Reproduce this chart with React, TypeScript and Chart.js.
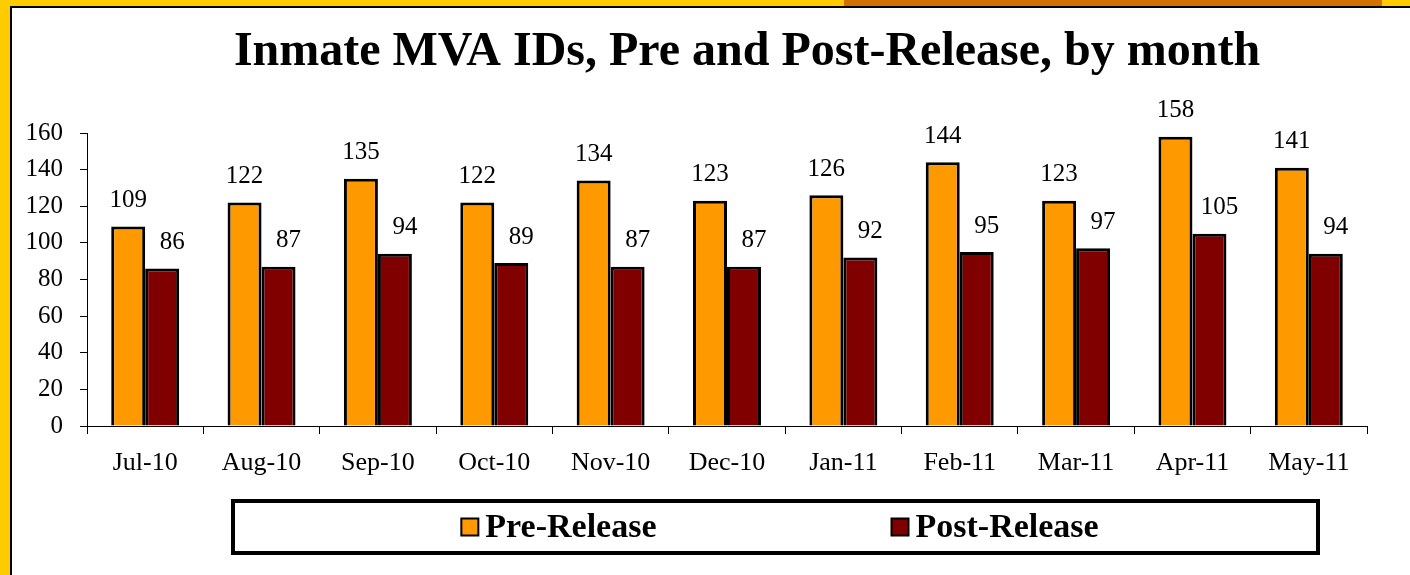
import React, { useEffect, useRef } from "react";
import { Chart, registerables } from "chart.js";

Chart.register(...registerables);

const months = ["Jul-10", "Aug-10", "Sep-10", "Oct-10", "Nov-10", "Dec-10", "Jan-11", "Feb-11", "Mar-11", "Apr-11", "May-11"];
const preRelease = [109, 122, 135, 122, 134, 123, 126, 144, 123, 158, 141];
const postRelease = [86, 87, 94, 89, 87, 87, 92, 95, 97, 105, 94];
const seriesNames = ["Pre-Release", "Post-Release"];
const yTicks = [0, 20, 40, 60, 80, 100, 120, 140, 160];
const titleText = "Inmate MVA IDs, Pre and Post-Release, by month";

const SERIF = '"Liberation Serif", "Times New Roman", serif';
const ORANGE = "#FF9900";
const MAROON = "#800000";

const valueLabels = {
  id: "valueLabels",
  afterDatasetsDraw(chart: any) {
    const ctx = chart.ctx;
    ctx.save();
    ctx.font = `25px ${SERIF}`;
    ctx.fillStyle = "#000";
    ctx.textAlign = "center";
    ctx.textBaseline = "middle";
    chart.data.datasets.forEach((ds: any, di: number) => {
      const meta = chart.getDatasetMeta(di);
      const dx = di === 0 ? 0 : 10;
      meta.data.forEach((bar: any, i: number) => {
        ctx.fillText(String(ds.data[i]), bar.x + dx, bar.y - 26);
      });
    });
    ctx.restore();
  },
};

const titleAndLegend = {
  id: "titleAndLegend",
  afterDraw(chart: any) {
    const ctx = chart.ctx;
    ctx.save();
    // title
    ctx.font = `bold 48px ${SERIF}`;
    ctx.fillStyle = "#000";
    ctx.textAlign = "center";
    ctx.textBaseline = "alphabetic";
    ctx.fillText(titleText, 747, 65);

    // legend box
    const bx = 233, by = 501, bw = 1085, bh = 52;
    ctx.strokeStyle = "#000";
    ctx.lineWidth = 4;
    ctx.strokeRect(bx, by, bw, bh);

    ctx.font = `bold 34px ${SERIF}`;
    ctx.textAlign = "left";
    ctx.textBaseline = "middle";
    const marker = 17, mgap = 7, itemGap = 235;
    const widths = chart.data.datasets.map((d: any) => ctx.measureText(d.label).width);
    let total = 0;
    widths.forEach((w: number, i: number) => {
      total += marker + mgap + w + (i < widths.length - 1 ? itemGap : 0);
    });
    let x = 780 - total / 2;
    const cy = by + bh / 2;
    chart.data.datasets.forEach((d: any, i: number) => {
      ctx.fillStyle = d.backgroundColor;
      ctx.fillRect(x, cy - marker / 2, marker, marker);
      ctx.lineWidth = 2;
      ctx.strokeStyle = "#000";
      ctx.strokeRect(x, cy - marker / 2, marker, marker);
      ctx.fillStyle = "#000";
      ctx.fillText(d.label, x + marker + mgap, cy + 1);
      x += marker + mgap + widths[i] + itemGap;
    });
    ctx.restore();
  },
};

export default function App() {
  const canvasRef = useRef<HTMLCanvasElement | null>(null);

  useEffect(() => {
    if (!canvasRef.current) return;
    const chart = new Chart(canvasRef.current, {
      type: "bar",
      data: {
        labels: months,
        datasets: [
          {
            label: seriesNames[0],
            data: preRelease,
            backgroundColor: ORANGE,
            borderColor: "#000",
            borderWidth: 3,
            borderSkipped: "bottom",
            categoryPercentage: 0.584,
            barPercentage: 1,
          },
          {
            label: seriesNames[1],
            data: postRelease,
            backgroundColor: MAROON,
            borderColor: "#000",
            borderWidth: 3,
            borderSkipped: "bottom",
            categoryPercentage: 0.584,
            barPercentage: 1,
          },
        ],
      },
      options: {
        responsive: false,
        animation: false,
        layout: { padding: { left: 0, right: 43, top: 133, bottom: 99 } },
        plugins: {
          legend: { display: false },
          title: { display: false },
          tooltip: { enabled: false },
        },
        scales: {
          x: {
            offset: true,
            clip: false,
            grid: {
              display: true,
              offset: true,
              drawOnChartArea: false,
              drawTicks: true,
              tickLength: 8,
              color: "#000",
            },
            border: { display: true, color: "#000", width: 1 },
            ticks: {
              color: "#000",
              font: { family: SERIF, size: 26 },
              padding: 14,
              maxRotation: 0,
              autoSkip: false,
            },
            afterFit(scale: any) {
              scale.height = 50;
            },
          },
          y: {
            min: 0,
            max: 160,
            clip: false,
            afterBuildTicks(scale: any) {
              scale.ticks = yTicks.map((v) => ({ value: v }));
            },
            grid: {
              display: true,
              drawOnChartArea: false,
              drawTicks: true,
              tickLength: 7,
              color: "#000",
            },
            border: { display: true, color: "#000", width: 1 },
            ticks: {
              color: "#000",
              font: { family: SERIF, size: 25 },
              padding: 17,
            },
            afterFit(scale: any) {
              scale.width = 87;
            },
          },
        },
      },
      plugins: [valueLabels, titleAndLegend],
    });
    return () => chart.destroy();
  }, []);

  return (
    <div style={{ position: "fixed", left: 0, top: 0, width: 1410, height: 575, background: "#FFCC00", overflow: "hidden" }}>
      <div style={{ position: "absolute", left: 844, top: 0, width: 538, height: 7, background: "#D47000" }} />
      <div
        style={{
          position: "absolute",
          left: 10,
          top: 6,
          right: 0,
          bottom: 0,
          background: "#fff",
          borderTop: "2px solid #000",
          borderLeft: "2px solid #000",
        }}
      />
      <canvas ref={canvasRef} width={1410} height={575} style={{ position: "absolute", left: 0, top: 0 }} />
    </div>
  );
}
